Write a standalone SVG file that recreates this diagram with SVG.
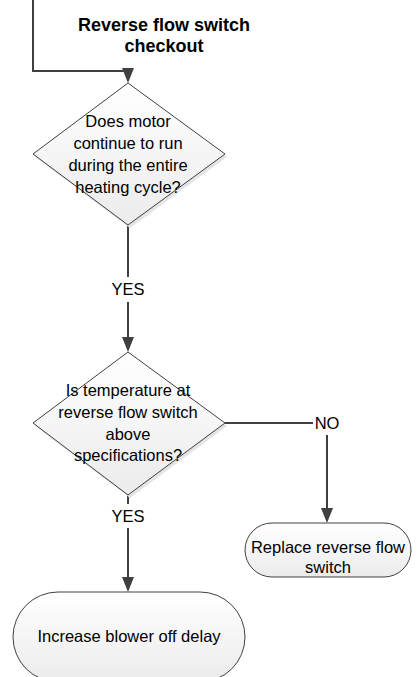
<svg xmlns="http://www.w3.org/2000/svg" width="417" height="677" viewBox="0 0 417 677">
<style>
.shape{fill:url(#g);stroke:#404040;stroke-width:1}
.shadow{fill:#e4e4e4;stroke:none}
.t{font-family:"Liberation Sans",Arial,sans-serif;font-size:16.5px;fill:#000;text-anchor:middle}
.title{font-family:"Liberation Sans",Arial,sans-serif;font-size:18px;font-weight:bold;fill:#000;text-anchor:middle}
.c{fill:none;stroke:#404040;stroke-width:2}
</style>
<defs>
<linearGradient id="g" x1="0" y1="0" x2="0" y2="1">
<stop offset="0" stop-color="#ffffff"/>
<stop offset="1" stop-color="#ebebeb"/>
</linearGradient>
</defs>
<rect width="417" height="677" fill="#fff"/>
<text class="title" x="164" y="31">Reverse flow switch</text>
<text class="title" x="164" y="52">checkout</text>
<g id="connectors">
<path class="c" d="M33,0 V71 H128 V70" />
<path d="M122,68 L134,68 L128,83 Z" fill="#404040"/>
<path class="c" d="M128,225 V277"/>
<path class="c" d="M128,302 V340"/>
<path d="M122,337 L134,337 L128,352 Z" fill="#404040"/>
<path class="c" d="M225,423 H313"/>
<path class="c" d="M327,435 V512"/>
<path d="M321,508 L333,508 L327,523 Z" fill="#404040"/>
<path class="c" d="M128,495 V504"/>
<path class="c" d="M128,528 V580"/>
<path d="M122,577 L134,577 L128,592 Z" fill="#404040"/>
<text class="t" x="128" y="295">YES</text>
<text class="t" x="128" y="522">YES</text>
<text class="t" x="327" y="429">NO</text>
</g>
<g id="d1">
<path class="shadow" d="M130,86 L227,157 L130,228 L35,157 Z"/>
<path class="shape" d="M128,83 L225,154 L128,225 L33,154 Z"/>
<text class="t" x="128" y="127">Does motor</text>
<text class="t" x="128" y="149">continue to run</text>
<text class="t" x="128" y="171">during the entire</text>
<text class="t" x="128" y="193">heating cycle?</text>
</g>
<g id="d2">
<path class="shadow" d="M130,355 L227,426 L130,498 L35,426 Z"/>
<path class="shape" d="M128,352 L225,423 L128,495 L33,423 Z"/>
<text class="t" x="128" y="396">Is temperature at</text>
<text class="t" x="128" y="418">reverse flow switch</text>
<text class="t" x="128" y="440">above</text>
<text class="t" x="128" y="461">specifications?</text>
</g>
<g id="replace">
<rect class="shape" x="245" y="523" width="166" height="54" rx="27" ry="27"/>
<text class="t" x="328" y="553">Replace reverse flow</text>
<text class="t" x="328" y="573">switch</text>
</g>
<g id="increase">
<rect class="shape" x="13" y="592" width="232" height="90" rx="45" ry="45"/>
<text class="t" x="129" y="642">Increase blower off delay</text>
</g>
</svg>
